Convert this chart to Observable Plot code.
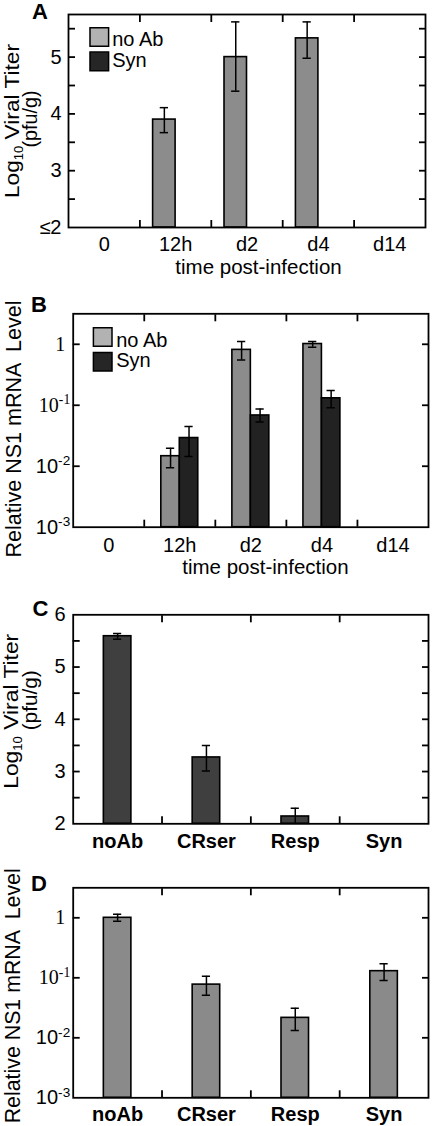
<!DOCTYPE html>
<html><head><meta charset="utf-8">
<script src="https://cdn.jsdelivr.net/npm/d3@7"></script>
<script src="https://cdn.jsdelivr.net/npm/@observablehq/plot@0.6"></script>
<style>
html,body{margin:0;padding:0;background:#fff;}
#root{position:relative;width:433px;height:1126px;overflow:hidden;background:#fff;}
.panel{position:absolute;left:0;}
</style>
</head><body><div id="root"></div>
<script>
// ---------------- data ----------------
const timeLabels = ["0", "12h", "d2", "d4", "d14"];
const seriesNames = ["no Ab", "Syn"];

// Panel A: log10 viral titer (pfu/g); Syn is <=2 (below detection) everywhere
const titerNoAb   = [null, 3.90, 5.00, 5.33, null];
const titerNoAbLo = [null, 3.67, 4.40, 4.98, null];
const titerNoAbHi = [null, 4.11, 5.62, 5.62, null];
const titerSyn    = [null, null, null, null, null];

// Panel B: relative NS1 mRNA level
const mrnaNoAb   = [null, 0.0146, 0.81, 1.01, null];
const mrnaNoAbLo = [null, 0.0094, 0.555, 0.89, null];
const mrnaNoAbHi = [null, 0.0197, 1.11, 1.11, null];
const mrnaSyn    = [null, 0.029, 0.068, 0.13, null];
const mrnaSynLo  = [null, 0.0144, 0.053, 0.091, null];
const mrnaSynHi  = [null, 0.045, 0.087, 0.174, null];

// Panels C, D: treatments
const treatLabels = ["noAb", "CRser", "Resp", "Syn"];
const treatTiter   = [5.59, 3.27, 2.14, null];
const treatTiterLo = [5.53, 3.01, 1.98, null];
const treatTiterHi = [5.64, 3.50, 2.30, null];
const treatMrna   = [1.0, 0.077, 0.0215, 0.129];
const treatMrnaLo = [0.88, 0.051, 0.0132, 0.090];
const treatMrnaHi = [1.15, 0.106, 0.031, 0.171];

// tick values
const titerTicksA = [2, 3, 4, 5];
const titerMinorA = [2.5, 3, 3.5, 4, 4.5, 5, 5.5];
const titerTicksC = [2, 3, 4, 5, 6];
const titerMinorC = [2.5, 3, 3.5, 4, 4.5, 5, 5.5];
const logTicks = [1e-3, 1e-2, 1e-1, 1];
const logMinor = [1e-2, 1e-1, 1];

// ---------------- helpers ----------------
const FONT = "'Liberation Sans', Arial, Helvetica, sans-serif";
const SERIF = "'Liberation Serif', 'Times New Roman', serif";
const COL = {noAbBar: "#8c8c8c", synBar: "#222222", noAbLeg: "#b2b2b2", synLeg: "#262626", cBar: "#3f3f3f", dBar: "#8a8a8a"};
const TICK = 7;

function buildRows(vals, lo, hi, offset, width) {
  const out = [];
  vals.forEach((v, i) => {
    if (v == null) return;
    const x1 = i + 0.5 + offset;
    out.push({x1, x2: x1 + width, xc: x1 + width / 2, v, lo: lo[i], hi: hi[i]});
  });
  return out;
}
function barMarks(rows, base, fill, cap) {
  return [
    Plot.rectY(rows, {x1: "x1", x2: "x2", y1: base, y2: "v", fill, stroke: "black", strokeWidth: 1.6}),
    Plot.ruleX(rows, {x: "xc", y1: "lo", y2: "hi", stroke: "black", strokeWidth: 1.5, clip: true}),
    Plot.ruleY(rows, {y: "hi", x1: d => d.xc - cap, x2: d => d.xc + cap, stroke: "black", strokeWidth: 1.5, clip: true}),
    Plot.ruleY(rows, {y: "lo", x1: d => d.xc - cap, x2: d => d.xc + cap, stroke: "black", strokeWidth: 1.5, clip: true})
  ];
}
// inward ticks on all four sides (tick length is given in pixels)
function frameMarks(n, minor) {
  const bounds = d3.range(1, n);
  const s = {tickSize: -TICK, tickFormat: () => "", label: null, stroke: "black", strokeWidth: 1.8};
  return [
    Plot.axisY({anchor: "left", ticks: minor, ...s}),
    Plot.axisY({anchor: "right", ticks: minor, ...s}),
    Plot.axisX({anchor: "bottom", ticks: bounds, ...s}),
    Plot.axisX({anchor: "top", ticks: bounds, ...s}),
    Plot.frame({stroke: "black", strokeWidth: 1.8})
  ];
}
function xLabels(labels, pad, weight) {
  return Plot.axisX({anchor: "bottom", ticks: labels.map((d, i) => i + 0.5), tickSize: 0, tickPadding: pad,
    tickFormat: v => labels[Math.floor(v)], label: null, fontSize: 20, fontWeight: weight});
}
function legendMarks(items, colors, o) {
  const m = [];
  items.forEach((name, i) => {
    m.push(Plot.dot([name], {frameAnchor: "top-left", dx: o.boxDx, dy: o.boxDy[i], symbol: "square", r: 10.5,
      fill: colors[i], stroke: "black", strokeWidth: 1.5}));
    m.push(Plot.text([name], {frameAnchor: "top-left", text: d => d, dx: o.textDx, dy: o.textDy[i],
      textAnchor: "start", lineAnchor: "bottom", fontSize: 20}));
  });
  return m;
}
function panelLetter(letter, dx, dy) {
  return Plot.text([letter], {frameAnchor: "top-left", text: d => d, dx, dy, textAnchor: "middle",
    lineAnchor: "bottom", fontSize: 22, fontWeight: "bold"});
}
function yTitle(str, dx, dy, size) {
  return Plot.text([str], {frameAnchor: "left", text: d => d, rotate: -90, dx, dy, textAnchor: "middle",
    lineAnchor: "bottom", fontSize: size});
}
function logFormat(v) {
  if (v === 1) return "1";
  return "10^" + Math.round(Math.log10(v));
}

function postProcess(svg, lengths) {
  svg.querySelectorAll("text").forEach(t => {
    const s = t.textContent;
    const parentLabel = (t.parentNode && t.parentNode.getAttribute && t.parentNode.getAttribute("aria-label")) || "";
    let m;
    if ((m = /^10\^(-\d)$/.exec(s))) {
      t.innerHTML = '10<tspan font-size="0.68em" dy="-0.55em">' + m[1] + '</tspan>';
      if (m[1] === "-1") t.setAttribute("font-family", SERIF);
    } else if (s === "1" && parentLabel.indexOf("y-axis") >= 0) {
      t.setAttribute("font-family", SERIF);
      t.setAttribute("dx", "-5");
    } else if (s === "Log10 Viral Titer") {
      t.innerHTML = 'Log<tspan font-size="12" dy="4">10</tspan><tspan dy="-4"> Viral Titer</tspan>';
    }
    if (lengths[s] != null) {
      t.setAttribute("textLength", lengths[s]);
      t.setAttribute("lengthAdjust", "spacingAndGlyphs");
    }
  });
}

function place(svg, top) {
  const div = document.createElement("div");
  div.className = "panel";
  div.style.top = top + "px";
  div.appendChild(svg);
  document.getElementById("root").appendChild(div);
}

const baseStyle = {fontFamily: FONT, fontSize: "20px", background: "transparent", overflow: "visible", color: "black"};

// ---------------- Panel A ----------------
{
  const w = 0.315, cap = 0.058;
  const noAb = buildRows(titerNoAb, titerNoAbLo, titerNoAbHi, -w, w);
  const syn = buildRows(titerSyn, titerNoAbLo, titerNoAbHi, 0, w);
  const svg = Plot.plot({
    width: 433, height: 280, marginTop: 14, marginBottom: 53, marginLeft: 68, marginRight: 8,
    style: baseStyle,
    x: {domain: [0, 5], label: null},
    y: {domain: [2, 5.75], label: null},
    marks: [
      ...barMarks(noAb, 2, COL.noAbBar, cap),
      ...barMarks(syn, 2, COL.synBar, cap),
      ...frameMarks(5, titerMinorA),
      Plot.axisY({anchor: "left", ticks: titerTicksA, tickSize: 0, tickPadding: 7, label: null,
        tickFormat: v => v === 2 ? "≤2" : String(v), fontSize: 20}),
      xLabels(timeLabels, 9, "normal"),
      Plot.text(["time post-infection"], {frameAnchor: "bottom", text: d => d, dx: 11.5, dy: 46, lineAnchor: "bottom", fontSize: 20.5}),
      yTitle("Log10 Viral Titer", -49.5, 0, 21),
      yTitle("(pfu/g)", -32, -2, 20),
      ...legendMarks(seriesNames, [COL.noAbLeg, COL.synLeg], {boxDx: 30.8, boxDy: [22.5, 46.9], textDx: 43.7, textDy: [31.7, 52.7]}),
      panelLetter("A", -28.5, 4)
    ]
  });
  postProcess(svg, {"Log10 Viral Titer": 154, "(pfu/g)": 57});
  place(svg, 0);
}

// ---------------- Panel B ----------------
{
  const w = 0.26, cap = 0.058;
  const noAb = buildRows(mrnaNoAb, mrnaNoAbLo, mrnaNoAbHi, -w, w);
  const syn = buildRows(mrnaSyn, mrnaSynLo, mrnaSynHi, 0, w);
  const svg = Plot.plot({
    width: 433, height: 300, marginTop: 33.3, marginBottom: 53.3, marginLeft: 72.7, marginRight: 5,
    style: baseStyle,
    x: {domain: [0, 5], label: null},
    y: {type: "log", domain: [1e-3, Math.sqrt(10)], label: null},
    marks: [
      ...barMarks(noAb, 1e-3, COL.noAbBar, cap),
      ...barMarks(syn, 1e-3, COL.synBar, cap),
      ...frameMarks(5, logMinor),
      Plot.axisY({anchor: "left", ticks: logTicks, tickSize: 0, tickPadding: 3, label: null, tickFormat: logFormat, fontSize: 20}),
      xLabels(timeLabels, 11, "normal"),
      Plot.text(["time post-infection"], {frameAnchor: "bottom", text: d => d, dx: 14.6, dy: 46.3, lineAnchor: "bottom", fontSize: 20.5}),
      yTitle("Relative NS1 mRNA  Level", -51.7, 8.5, 22),
      ...legendMarks(seriesNames, [COL.noAbLeg, COL.synLeg], {boxDx: 29.5, boxDy: [23.2, 47.9], textDx: 43, textDy: [32.7, 53.4]}),
      panelLetter("B", -34.2, -2.3)
    ]
  });
  postProcess(svg, {"Relative NS1 mRNA  Level": 257});
  place(svg, 280);
}

// ---------------- Panel C ----------------
{
  const w = 0.31, cap = 0.046;
  const rows = buildRows(treatTiter, treatTiterLo, treatTiterHi, -w / 2, w);
  const svg = Plot.plot({
    width: 433, height: 275, marginTop: 34.3, marginBottom: 31.7, marginLeft: 72.7, marginRight: 5,
    style: baseStyle,
    x: {domain: [0, 4], label: null},
    y: {domain: [2, 6], label: null},
    marks: [
      ...barMarks(rows, 2, COL.cBar, cap),
      ...frameMarks(4, titerMinorC),
      Plot.axisY({anchor: "left", ticks: titerTicksC, tickSize: 0, tickPadding: 7.5, label: null, tickFormat: v => String(v), fontSize: 20}),
      xLabels(treatLabels, 9.5, "bold"),
      yTitle("Log10 Viral Titer", -54.7, -8, 21),
      yTitle("(pfu/g)", -36.2, -19, 20),
      panelLetter("C", -32.7, 0.7)
    ]
  });
  postProcess(svg, {"Log10 Viral Titer": 155, "(pfu/g)": 60});
  place(svg, 580);
}

// ---------------- Panel D ----------------
{
  const w = 0.31, cap = 0.046;
  const rows = buildRows(treatMrna, treatMrnaLo, treatMrnaHi, -w / 2, w);
  const svg = Plot.plot({
    width: 433, height: 271, marginTop: 32.3, marginBottom: 28.7, marginLeft: 72.7, marginRight: 5,
    style: baseStyle,
    x: {domain: [0, 4], label: null},
    y: {type: "log", domain: [1e-3, Math.sqrt(10)], label: null},
    marks: [
      ...barMarks(rows, 1e-3, COL.dBar, cap),
      ...frameMarks(4, logMinor),
      Plot.axisY({anchor: "left", ticks: logTicks, tickSize: 0, tickPadding: 3, label: null, tickFormat: logFormat, fontSize: 20}),
      xLabels(treatLabels, 8.5, "bold"),
      yTitle("Relative NS1 mRNA  Level", -52.7, 3, 22),
      panelLetter("D", -34.2, 2.7)
    ]
  });
  postProcess(svg, {"Relative NS1 mRNA  Level": 255});
  place(svg, 855);
}
</script>
</body></html>
